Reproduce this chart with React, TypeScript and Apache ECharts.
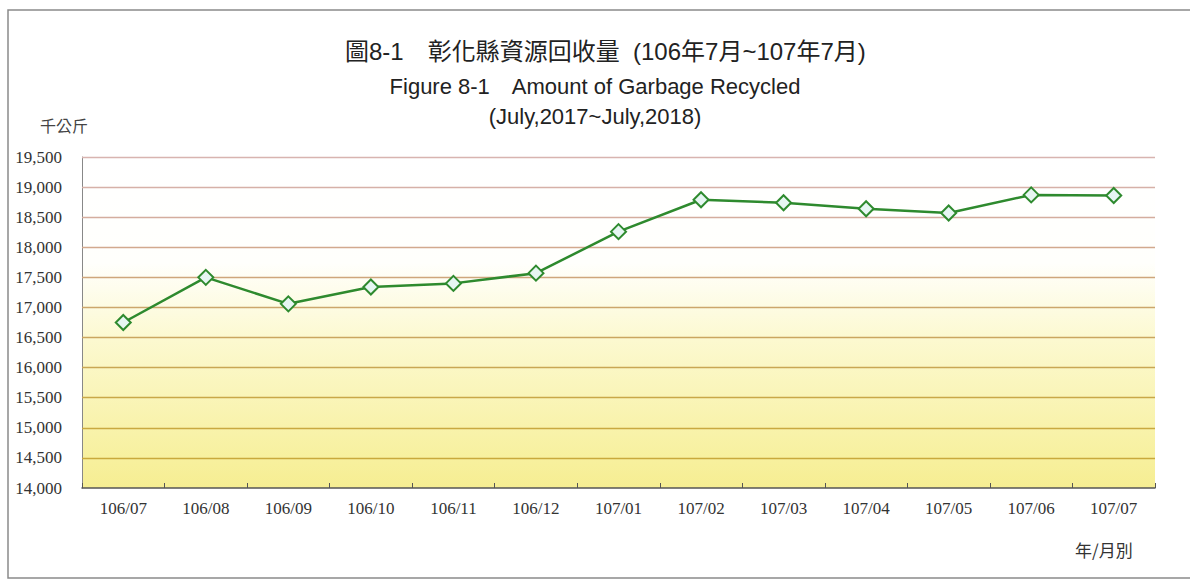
import React, { useEffect, useRef } from "react";
import * as echarts from "echarts";

const categories = ["106/07", "106/08", "106/09", "106/10", "106/11", "106/12", "107/01", "107/02", "107/03", "107/04", "107/05", "107/06", "107/07"];
const recycled = [16750, 17500, 17060, 17340, 17400, 17570, 18260, 18790, 18740, 18640, 18570, 18870, 18860];
const gridValues = [14500, 15000, 15500, 16000, 16500, 17000, 17500, 18000, 18500, 19000, 19500];
const gridColors = ["#c9a93c", "#c9a940", "#c9a848", "#c9a754", "#caa660", "#cca66c", "#cea67c", "#d2a98e", "#d4ad9e", "#d6b1a8", "#d8b4b0"];
const titleLines = ["圖8-1　彰化縣資源回收量  (106年7月~107年7月)", "Figure 8-1　Amount of Garbage Recycled", "(July,2017~July,2018)"];
const yUnit = "千公斤";
const xUnit = "年/月別";

export default function App() {
  const ref = useRef<HTMLDivElement>(null);
  useEffect(() => {
    if (!ref.current) return;
    const chart = echarts.init(ref.current, null, { renderer: "svg" });
    chart.setOption({
      animation: false,
      backgroundColor: "#ffffff",
      graphic: [
        { type: "rect", shape: { x: 8, y: 10, width: 1200, height: 568 }, style: { fill: "none", stroke: "#8a8a8a", lineWidth: 1.5 }, silent: true },
        { type: "text", left: 345, top: 39, style: { text: titleLines[0], font: "24px 'Liberation Sans', 'Noto Sans CJK TC', sans-serif", fill: "#222" } },
        { type: "text", left: "center", top: 75, style: { text: titleLines[1], font: "22px 'Liberation Sans', sans-serif", fill: "#222" } },
        { type: "text", left: "center", top: 105, style: { text: titleLines[2], font: "22px 'Liberation Sans', sans-serif", fill: "#222" } },
        { type: "text", left: 40, top: 117, style: { text: yUnit, font: "16px 'Noto Sans CJK TC', sans-serif", fill: "#444" } },
        { type: "text", left: 1075, top: 541, style: { text: xUnit, font: "17px 'Noto Sans CJK TC', serif", fill: "#333" } },
      ],
      grid: {
        left: 82, right: 35, top: 157, bottom: 96,
        show: true,
        borderWidth: 0,
        backgroundColor: {
          type: "linear", x: 0, y: 0, x2: 0, y2: 1,
          colorStops: [
            { offset: 0, color: "#ffffff" },
            { offset: 0.32, color: "#fffffc" },
            { offset: 0.55, color: "#fcf9d0" },
            { offset: 1, color: "#f6ee92" },
          ],
        },
      },
      xAxis: {
        type: "category",
        data: categories,
        boundaryGap: true,
        axisLine: { lineStyle: { color: "#555", width: 1.5 } },
        axisTick: { show: true, inside: true, length: 5, lineStyle: { color: "#555" } },
        axisLabel: { margin: 12, color: "#333", fontSize: 17, fontFamily: "'Liberation Serif', serif" },
      },
      yAxis: {
        type: "value",
        min: 14000, max: 19500, interval: 500,
        axisLine: { show: true, lineStyle: { color: "#888", width: 1 } },
        axisTick: { show: false },
        axisLabel: {
          margin: 20, color: "#333", fontSize: 17, fontFamily: "'Liberation Serif', serif",
          formatter: (v: number) => v.toLocaleString("en-US"),
        },
        splitLine: { show: false },
      },
      series: [
        {
          type: "line",
          data: recycled,
          symbol: "diamond",
          symbolSize: 15,
          z: 3,
          lineStyle: { color: "#2e8a2e", width: 2.5 },
          itemStyle: { color: "#e6f6f2", borderColor: "#2e8a2e", borderWidth: 2 },
          markLine: {
            silent: true,
            symbol: "none",
            label: { show: false },
            z: 1,
            data: gridValues.map((v, i) => ({ yAxis: v, lineStyle: { color: gridColors[i], width: 1.3, type: "solid" } })),
          },
        },
      ],
    });
    return () => chart.dispose();
  }, []);
  return <div ref={ref} style={{ position: "absolute", left: 0, top: 0, width: 1190, height: 584 }} />;
}
